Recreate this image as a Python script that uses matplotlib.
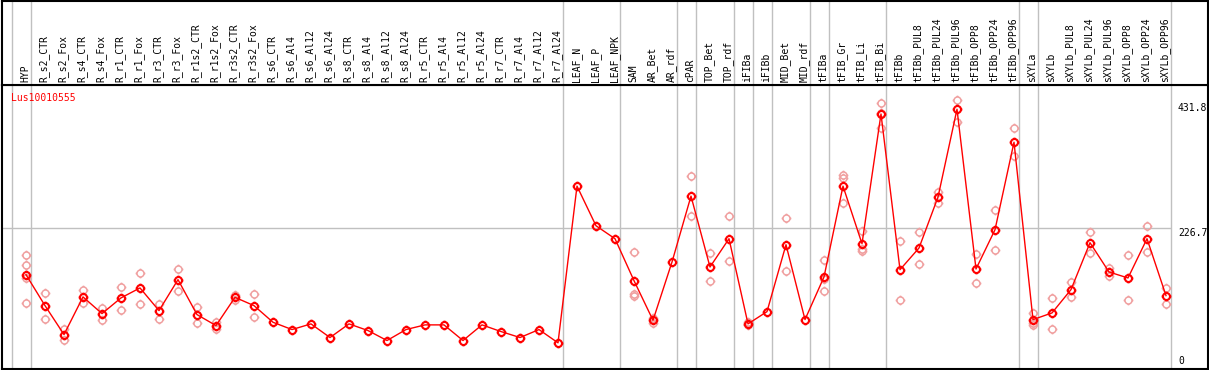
import matplotlib
matplotlib.use("Agg")
import matplotlib.pyplot as plt
from matplotlib.path import Path
from matplotlib import transforms

labels = ["HYP", "R_s2_CTR", "R_s2_Fox", "R_s4_CTR", "R_s4_Fox", "R_r1_CTR", "R_r1_Fox",
          "R_r3_CTR", "R_r3_Fox", "R_r1s2_CTR", "R_r1s2_Fox", "R_r3s2_CTR", "R_r3s2_Fox",
          "R_s6_CTR", "R_s6_Al4", "R_s6_Al12", "R_s6_Al24", "R_s8_CTR", "R_s8_Al4", "R_s8_Al12",
          "R_s8_Al24", "R_r5_CTR", "R_r5_Al4", "R_r5_Al12", "R_r5_Al24", "R_r7_CTR", "R_r7_Al4",
          "R_r7_Al12", "R_r7_Al24", "LEAF_N", "LEAF_P", "LEAF_NPK", "SAM", "AR_Bet", "AR_rdf",
          "cPAR", "TOP_Bet", "TOP_rdf", "iFIBa", "iFIBb", "MID_Bet", "MID_rdf", "tFIBa",
          "tFIB_Gr", "tFIB_Li", "tFIB_Bi", "tFIBb", "tFIBb_PUL8", "tFIBb_PUL24", "tFIBb_PUL96",
          "tFIBb_OPP8", "tFIBb_OPP24", "tFIBb_OPP96", "sXYLa", "sXYLb", "sXYLb_PUL8",
          "sXYLb_PUL24", "sXYLb_PUL96", "sXYLb_OPP8", "sXYLb_OPP24", "sXYLb_OPP96"]

means = [151.4, 101.7, 55.3, 115.7, 88.9, 114.1, 130.1, 93.7, 143.4, 87.3, 69.7, 115.0, 101.7,
         75.0, 63.3, 72.4, 50.5, 72.4, 61.7, 45.7, 63.3, 70.8, 70.8, 45.7, 70.8, 60.1, 50.5,
         63.3, 42.0, 293.5, 229.9, 209.1, 141.8, 78.2, 171.7, 277.5, 163.7, 209.1, 72.4, 92.1,
         199.5, 79.3, 147.7, 293.5, 201.1, 409.3, 159.4, 194.2, 275.9, 416.9, 160.5, 223.5,
         364.0, 79.3, 90.0, 127.4, 202.7, 155.7, 146.1, 209.1, 117.8]

# individual samples (empty = only the mean is shown)
reps = [[183.4, 166.9, 146.1, 106.1], [122.1, 80.9], [64.4, 46.1], [127.4, 106.1], [98.0, 78.2],
        [131.7, 95.3], [154.1, 104.5], [104.9, 80.9], [160.5, 125.8], [99.6, 74.0], [75.0, 64.4],
        [118.9, 111.3], [121.0, 83.6],
        [], [], [], [], [], [], [], [], [], [], [], [], [], [], [], [],
        [], [], [], [187.8, 120.5, 117.8], [82.5, 74.0], [], [309.5, 245.4], [186.2, 141.8],
        [245.9, 173.3], [75.0, 70.8], [], [242.7, 157.8], [], [174.9, 145.0, 125.8],
        [312.1, 306.3, 266.3], [220.8, 192.6, 188.7], [426.5, 411.4, 386.4], [205.9, 111.3],
        [219.8, 169.0], [284.8, 267.2], [431.8, 397.0], [185.0, 138.1], [255.5, 191.0],
        [386.4, 342.0], [90.0, 74.0, 71.3], [114.1, 64.9], [139.1, 115.7], [219.8, 185.5],
        [162.6, 148.7], [183.4, 111.3], [229.9, 187.8], [130.6, 104.9]]

# group boundaries: a grey line after these category indices
groups_end = [-1, 0, 28, 31, 34, 35, 37, 38, 39, 41, 42, 45, 52, 53, 60]

ymax = 431.8
ymid = 226.7

W, H = 1209, 370
fig = plt.figure(figsize=(W / 100, H / 100), dpi=100)
plt.rcParams['font.family'] = ['DejaVu Sans Mono', 'DejaVu Sans']

# pixel layout
x0, x1 = 1.5, 1207.5
head_y = 85
xlim = ((x0 - 26) / 19, (x1 - 26) / 19)

ax = fig.add_axes([x0 / W, 1 / H, (x1 - x0) / W, (H - head_y - 1) / H])
hd = fig.add_axes([x0 / W, (H - head_y) / H, (x1 - x0) / W, (head_y - 0.5) / H])

for a in (ax, hd):
    a.set_xlim(xlim)
    a.set_xticks([])
    a.set_yticks([])
    for s in a.spines.values():
        s.set_linewidth(1.5)
        s.set_color("black")
    for g in groups_end:
        a.axvline(g + 0.24, color="#c0c0c0", lw=1, zorder=0)

ax.set_ylim(0, 455.8)
hd.set_ylim(0, 1)

ax.hlines(ymid, xlim[0], groups_end[-1] + 0.24, color="#c0c0c0", lw=1, zorder=0)

# circle with four small ticks
ticks = Path([(0, 0.75), (0, 1), (0, -0.75), (0, -1), (0.75, 0), (1, 0), (-0.75, 0), (-1, 0)],
             [Path.MOVETO, Path.LINETO] * 4)
mk = Path.make_compound_path(Path.circle((0, 0), 0.72), ticks)

xs = list(range(len(labels)))
rx, ry = [], []
for i, r in enumerate(reps):
    for v in r:
        rx.append(i)
        ry.append(v)
ax.plot(rx, ry, ls="none", marker=mk, ms=7, mfc="none", mec="#f0a0a0", mew=1.1, zorder=2)
ax.plot(xs, means, color="red", lw=1, zorder=3)
ax.plot(xs, means, ls="none", marker=mk, ms=7, mfc="none", mec="red", mew=1.5, zorder=4)

htrans = transforms.blended_transform_factory(hd.transData, hd.transAxes)
for i, lab in enumerate(labels):
    hd.text(i - 0.05, 0.03, lab, rotation=90, ha="center", va="bottom", fontsize=7,
            transform=htrans)

ax.text(10 / (x1 - x0), 1 - 8 / (H - head_y), "Lus10010555", color="red", fontsize=7,
        ha="left", va="top", transform=ax.transAxes)

ytrans = transforms.blended_transform_factory(ax.transAxes, ax.transData)
lx = (1178 - x0) / (x1 - x0)
ax.text(lx, ymax - 5, "%.1f" % ymax, ha="left", va="top", fontsize=7, transform=ytrans)
ax.text(lx, ymid - 1, "%.1f" % ymid, ha="left", va="top", fontsize=7, transform=ytrans)
ax.text(lx, 5, "0", ha="left", va="bottom", fontsize=7, transform=ytrans)

fig.savefig("out.png", dpi=100)
